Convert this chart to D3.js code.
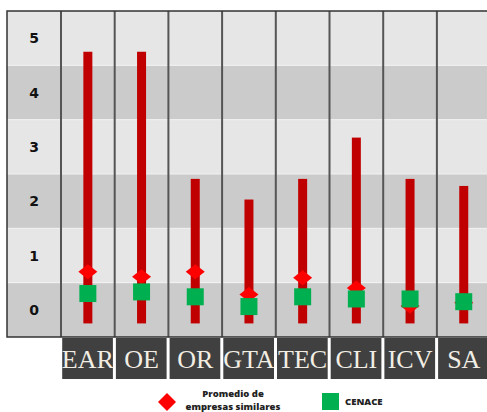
<!DOCTYPE html>
<html><head><meta charset="utf-8">
<script src="https://cdn.jsdelivr.net/npm/d3@7/dist/d3.min.js"></script>
<style>body{margin:0;background:#fff}svg{display:block}</style>
</head><body>
<svg id="c" width="487" height="412"></svg>
<script>
const categories = ["EAR","OE","OR","GTA","TEC","CLI","ICV","SA"];
const rangeLow  = [-0.25,-0.25,-0.25,-0.25,-0.25,-0.25,-0.25,-0.25];
const rangeHigh = [4.75, 4.75, 2.41, 2.03, 2.41, 3.17, 2.41, 2.28];
const promedio  = [0.70, 0.61, 0.70, 0.28, 0.59, 0.40, 0.07, 0.13];
const cenace    = [0.30, 0.33, 0.24, 0.06, 0.24, 0.20, 0.20, 0.15];
const yTicks    = [0,1,2,3,4,5];
const legendItems = [["Promedio de","empresas similares"],["CENACE"]];

(function(){
const svg = d3.select("#c");
const leftX = 7, labelColRight = 61, colW = 53.7, topY = 11, bottomY = 337;
const x = d3.scaleBand().domain(categories).range([labelColRight, labelColRight + colW*categories.length]).padding(0);
const y = d3.scaleLinear().domain([-0.5, 5.5]).range([bottomY, topY]);

// bands
svg.append("g").selectAll("rect").data(yTicks).join("rect")
  .attr("x", leftX).attr("width", 500)
  .attr("y", d => y(d + 0.5)).attr("height", d => y(d - 0.5) - y(d + 0.5))
  .attr("fill", d => d % 2 === 0 ? "#cbcbcb" : "#e6e6e6");
svg.append("g").selectAll("line").data(yTicks.slice(1)).join("line")
  .attr("x1", leftX).attr("x2", 500)
  .attr("y1", d => y(d - 0.5)).attr("y2", d => y(d - 0.5))
  .attr("stroke", "#f2f2f2").attr("stroke-width", 1);

// vertical column lines
const vx = [labelColRight, ...categories.slice(1).map(c => x(c))];
svg.append("g").selectAll("line").data(vx).join("line")
  .attr("x1", d => d).attr("x2", d => d).attr("y1", topY).attr("y2", bottomY)
  .attr("stroke", "#555").attr("stroke-width", 2);

// frame
svg.append("path").attr("d", `M500,${topY}H${leftX}V${bottomY}H500`)
  .attr("fill", "none").attr("stroke", "#333").attr("stroke-width", 1.5);

// y labels
svg.append("g").selectAll("text").data(yTicks).join("text")
  .attr("x", 34).attr("y", d => y(d)).attr("dy", "0.36em")
  .attr("text-anchor", "middle")
  .attr("font-family", "DejaVu Sans").attr("font-weight", "bold").attr("font-size", 14)
  .attr("fill", "#111").text(d => d);

const cx = c => x(c) + x.bandwidth()/2;
// range bars
svg.append("g").selectAll("rect").data(categories).join("rect")
  .attr("x", c => cx(c) - 4.5).attr("width", 9)
  .attr("y", (c,i) => y(rangeHigh[i])).attr("height", (c,i) => y(rangeLow[i]) - y(rangeHigh[i]))
  .attr("fill", "#c00000");

// diamonds
svg.append("g").selectAll("path").data(categories).join("path")
  .attr("d", (c,i) => { const X = cx(c), Y = y(promedio[i]); return `M${X},${Y-7.5}L${X+9.5},${Y}L${X},${Y+7.5}L${X-9.5},${Y}Z`; })
  .attr("fill", "#ff0000");

// squares
svg.append("g").selectAll("rect").data(categories).join("rect")
  .attr("x", c => cx(c) - 8.5).attr("width", 17)
  .attr("y", (c,i) => y(cenace[i]) - 8.5).attr("height", 17)
  .attr("fill", "#00b050");

// category label boxes
const lab = svg.append("g");
lab.selectAll("rect").data(categories).join("rect")
  .attr("x", c => x(c) + 1.2).attr("width", x.bandwidth() - 3)
  .attr("y", 338).attr("height", 41).attr("fill", "#404040");
lab.selectAll("text").data(categories).join("text")
  .attr("x", c => cx(c)).attr("y", 367.5).attr("text-anchor", "middle")
  .attr("font-family", "Liberation Serif").attr("font-size", 26)
  .attr("fill", "#f2eee4").text(c => c);

// legend
const lg = svg.append("g").attr("font-family", "Open Sans").attr("font-weight", "800").attr("font-size", 9.5).attr("fill", "#222");
lg.append("path").attr("d", "M167,393L176,402L167,411L158,402Z").attr("fill", "#ff0000");
lg.append("text").attr("x", 233).attr("y", 396.5).attr("text-anchor", "middle").text(legendItems[0][0]);
lg.append("text").attr("x", 233).attr("y", 409.5).attr("text-anchor", "middle").text(legendItems[0][1]);
lg.append("rect").attr("x", 322).attr("y", 393).attr("width", 17).attr("height", 17).attr("fill", "#00b050");
lg.append("text").attr("x", 345).attr("y", 405).text(legendItems[1][0]);
})();
</script>
</body></html>
